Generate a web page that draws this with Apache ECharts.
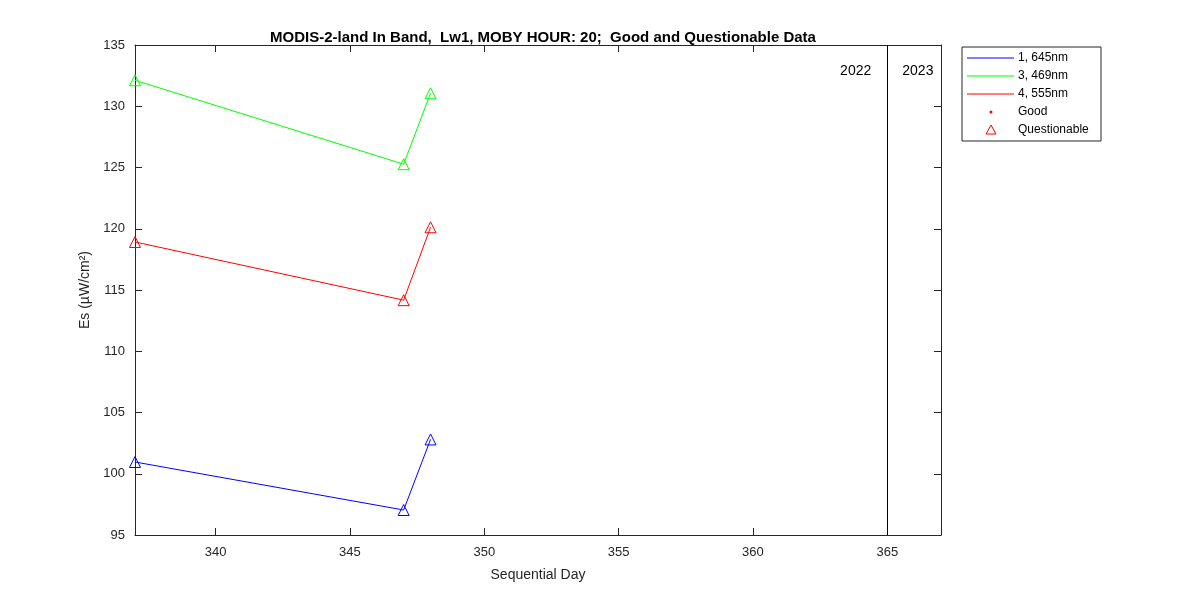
<!DOCTYPE html>
<html><head><meta charset="utf-8">
<script src="https://cdn.jsdelivr.net/npm/echarts@6/dist/echarts.min.js"></script>
<style>html,body{margin:0;padding:0;background:#fff}#c{width:1200px;height:600px}</style>
</head><body><div id="c"></div>
<script>
const days = [337, 347, 348];
const band1_645 = [100.96, 97.04, 102.8];
const band3_469 = [132.12, 125.27, 131.06];
const band4_555 = [118.92, 114.17, 120.12];
const seriesNames = ['1, 645nm', '3, 469nm', '4, 555nm'];
const seriesColors = ['#0000ff', '#00ff00', '#ff0000'];
const seriesValues = [band1_645, band3_469, band4_555];
const yearBoundary = 365;
const yearLabels = ['2022', '2023'];
const xTicks = [340, 345, 350, 355, 360, 365];

const FONT = 'Liberation Sans, Arial, Helvetica, sans-serif';
const AX = '#262626';
const chart = echarts.init(document.getElementById('c'));

const axisCommon = {
  axisLine: {show: true, lineStyle: {color: AX, width: 1}},
  axisTick: {show: true, inside: true, length: 7, lineStyle: {color: AX}},
  splitLine: {show: false},
};

const series = seriesValues.map((vals, i) => ({
  name: seriesNames[i],
  type: 'line',
  data: days.map((d, j) => [d, vals[j]]),
  symbol: 'triangle',
  symbolSize: 11,
  showSymbol: true,
  itemStyle: {color: 'rgba(0,0,0,0)', borderColor: seriesColors[i], borderWidth: 1},
  lineStyle: {color: seriesColors[i], width: 1},
  animation: false,
  z: 3
}));
series.push({
  type: 'line', data: [], xAxisIndex: 0, yAxisIndex: 0,
  markLine: {
    silent: true, symbol: ['none', 'none'], animation: false,
    label: {show: false},
    lineStyle: {color: '#000', width: 1, type: 'solid'},
    data: [{xAxis: yearBoundary}]
  }
});

chart.setOption({
  animation: false,
  backgroundColor: '#fff',
  textStyle: {fontFamily: FONT},
  title: {
    text: 'MODIS-2-land In Band,  Lw1, MOBY HOUR: 20;  Good and Questionable Data',
    left: 538, top: 25, textAlign: 'center',
    textStyle: {fontSize: 15, fontWeight: 'bold', color: '#000', fontFamily: FONT}
  },
  grid: {left: 135, right: 259, top: 45, bottom: 65},
  xAxis: [
    Object.assign({
      type: 'value', min: 337, max: 367, interval: 5,
      name: 'Sequential Day', nameLocation: 'middle', nameGap: 33,
      nameTextStyle: {fontSize: 14, color: AX},
      axisLabel: {color: AX, fontSize: 13, margin: 11,
        customValues: xTicks, formatter: v => String(v)},
      axisTick: {show: true, inside: true, length: 7, lineStyle: {color: AX}, customValues: xTicks}
    }, {axisLine: axisCommon.axisLine, splitLine: {show: false}}),
    {
      type: 'value', min: 337, max: 367, position: 'top',
      axisLine: axisCommon.axisLine, splitLine: {show: false},
      axisLabel: {show: false},
      axisTick: {show: true, inside: true, length: 7, lineStyle: {color: AX}, customValues: xTicks}
    }
  ],
  yAxis: [
    Object.assign({
      type: 'value', min: 95, max: 135, interval: 5,
      name: 'Es (µW/cm²)', nameLocation: 'middle', nameGap: 35, nameRotate: 90,
      nameTextStyle: {fontSize: 14, color: AX},
      axisLabel: {color: AX, fontSize: 13, margin: 10}
    }, axisCommon),
    Object.assign({
      type: 'value', min: 95, max: 135, interval: 5, position: 'right',
      axisLabel: {show: false}
    }, axisCommon)
  ],
  series: series
});

// year labels and legend
const pTop = chart.convertToPixel({xAxisIndex: 0, yAxisIndex: 0}, [yearBoundary, 132.9]);
const lx = 962, ly = 47;
const rowH = 18;
const legendEls = [
  {type: 'rect', shape: {x: lx, y: ly, width: 139, height: 94},
   style: {fill: '#fff', stroke: '#262626', lineWidth: 1}, z: 10}
];
seriesNames.forEach((n, i) => {
  const y = ly + 11 + i * rowH;
  legendEls.push({type: 'line', shape: {x1: lx + 5, y1: y, x2: lx + 52, y2: y},
    style: {stroke: seriesColors[i], lineWidth: 1}, z: 11});
  legendEls.push({type: 'text', x: lx + 56, y: y,
    style: {text: n, fill: '#000', font: '12px ' + FONT, verticalAlign: 'middle'}, z: 11});
});
{
  const y = ly + 11 + 3 * rowH;
  legendEls.push({type: 'circle', shape: {cx: lx + 29, cy: y, r: 1.5}, style: {fill: '#ff0000'}, z: 11});
  legendEls.push({type: 'text', x: lx + 56, y: y,
    style: {text: 'Good', fill: '#000', font: '12px ' + FONT, verticalAlign: 'middle'}, z: 11});
  const y2 = ly + 11 + 4 * rowH;
  legendEls.push({type: 'polygon', shape: {points: [[lx + 29, y2 - 5], [lx + 34, y2 + 4], [lx + 24, y2 + 4]]},
    style: {fill: 'none', stroke: '#ff0000', lineWidth: 1}, z: 11});
  legendEls.push({type: 'text', x: lx + 56, y: y2,
    style: {text: 'Questionable', fill: '#000', font: '12px ' + FONT, verticalAlign: 'middle'}, z: 11});
}
legendEls.push({type: 'text', x: pTop[0] - 16, y: pTop[1],
  style: {text: yearLabels[0], fill: '#000', font: '14px ' + FONT, align: 'right', verticalAlign: 'middle'}, z: 11});
legendEls.push({type: 'text', x: pTop[0] + 15, y: pTop[1],
  style: {text: yearLabels[1], fill: '#000', font: '14px ' + FONT, align: 'left', verticalAlign: 'middle'}, z: 11});
chart.setOption({graphic: legendEls});
</script>
</body></html>
